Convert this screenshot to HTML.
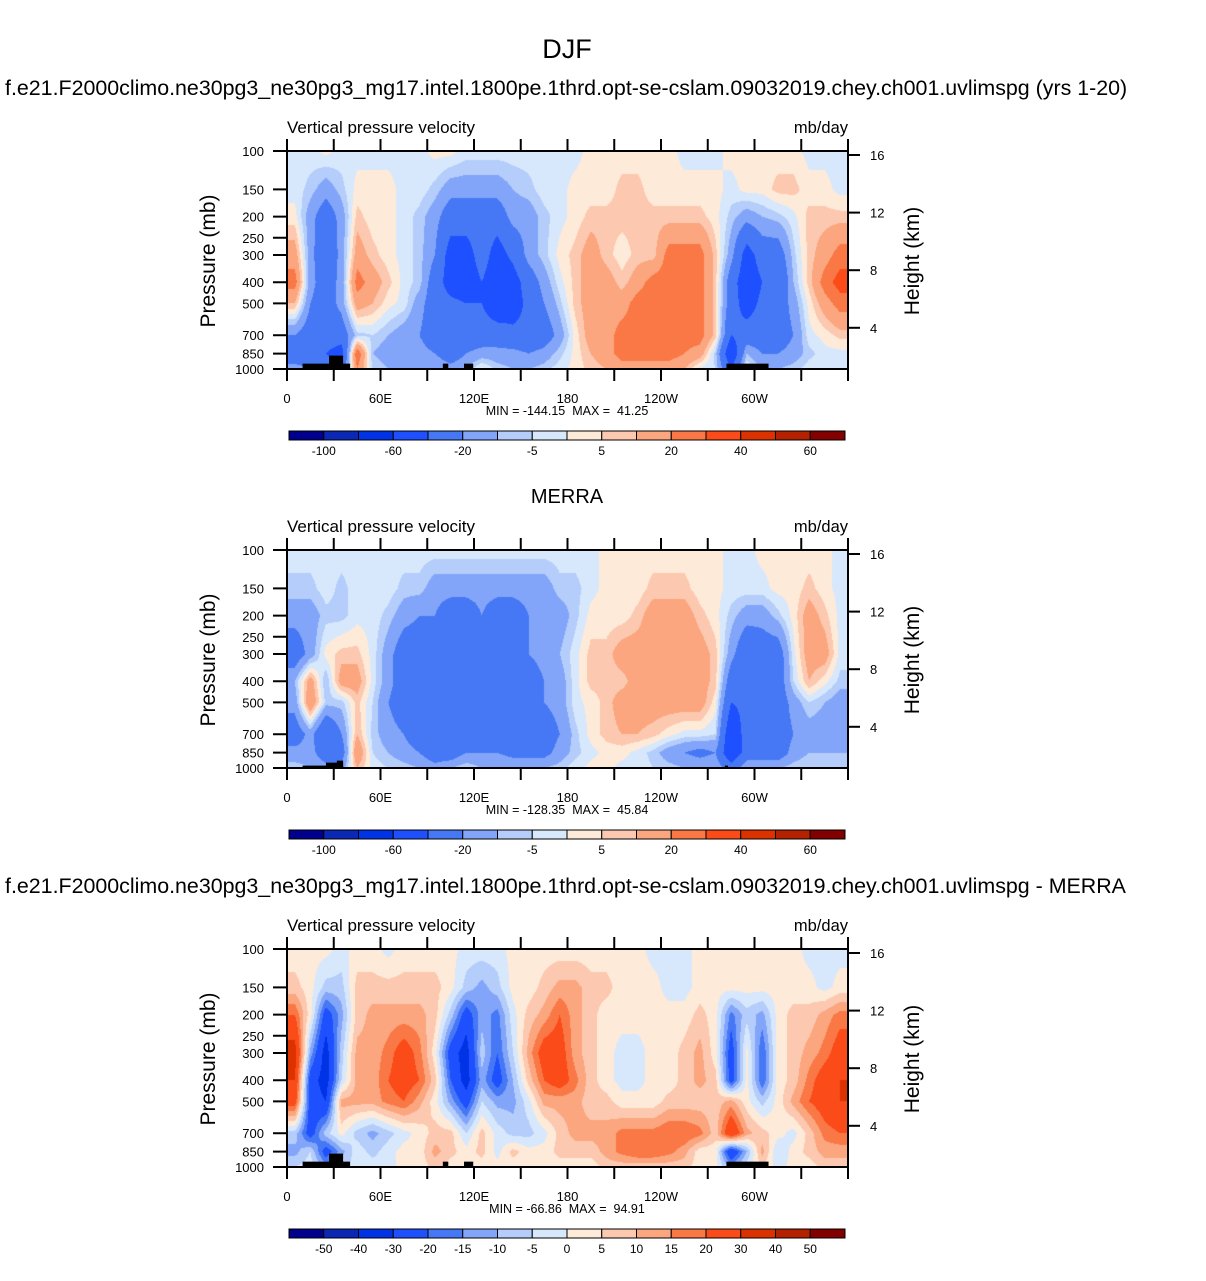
<!DOCTYPE html>
<html><head><meta charset="utf-8">
<style>
body{margin:0;background:#fff;width:1206px;height:1281px;position:relative;overflow:hidden;font-family:"Liberation Sans",Arial,sans-serif;}
canvas{position:absolute;z-index:1;}
svg{position:absolute;left:0;top:0;z-index:2;}
text{white-space:pre;}
</style></head>
<body>
<svg id="svg" width="1206" height="1281"></svg>
<script>
// ---------- data ----------
const lons = [5,15,25,35,45,55,65,75,85,95,105,115,125,135,145,155,165,175,185,195,205,215,225,235,245,255,265,275,285,295,305,315,325,335,345,355];
const levels = [100,150,200,300,400,500,700,850,1000];
const pTicks = [100,150,200,250,300,400,500,700,850,1000];
const hTicks = [16,12,8,4];
const xTickLons = [0,60,120,180,240,300];
const xTickLabels = ['0','60E','120E','180','120W','60W'];
const bounds1 = [-100,-80,-60,-40,-20,-10,-5,0,5,10,20,30,40,50,60];
const barLabels1 = ['-100','','-60','','-20','','-5','','5','','20','','40','','60'];
const bounds3 = [-50,-40,-30,-20,-15,-10,-5,0,5,10,15,20,30,40,50];
const barLabels3 = ['-50','-40','-30','-20','-15','-10','-5','0','5','10','15','20','30','40','50'];
const colors = ['#00008c','#0a28b4','#0032e6','#1e50ff','#4678f5','#82a5fa','#b4cdfa','#d7e8fd','#feead8','#fcc8b0','#fba67e','#fa7846','#fa4b19','#dc3200','#b42100','#820000'];

const model = [
[-2,-2,2,-2,-2,-2,-2,-2,-2,2,2,-2,-2,-2,-2,-2,-2,-2,-2,2,2,2,2,2,2,-2,-2,-2,2,2,2,2,2,-2,-2,-2],
[-2,-7,-15,-7,2,2,2,-2,-2,-7,-15,-15,-15,-15,-10,-7,-2,-2,2,2,2,7,7,2,2,2,2,2,-2,2,2,7,7,2,2,-2],
[2,-15,-30,-15,7,2,2,-2,-7,-15,-30,-30,-30,-30,-15,-15,-7,-2,2,7,7,7,7,7,7,7,7,2,-7,-15,-10,-7,-2,7,7,7],
[15,-15,-35,-15,15,7,2,-2,-7,-20,-50,-50,-30,-50,-35,-15,-7,2,7,15,7,2,7,7,25,25,25,7,-15,-50,-30,-30,-7,7,15,25],
[25,-15,-30,-15,25,15,7,-2,-7,-30,-50,-55,-40,-55,-50,-30,-15,-2,7,15,15,7,15,25,25,25,25,7,-30,-55,-40,-40,-10,7,25,35],
[10,-20,-30,-15,15,10,2,-2,-15,-30,-35,-40,-40,-55,-50,-35,-20,-7,7,15,15,15,25,25,25,25,25,7,-30,-50,-35,-30,-15,2,15,25],
[-20,-30,-30,-30,-7,-5,-10,-15,-20,-30,-30,-30,-30,-30,-35,-35,-30,-15,2,15,15,25,25,25,25,25,25,7,-40,-30,-30,-30,-20,-2,2,7],
[-30,-30,-40,-50,30,-10,-15,-15,-15,-20,-30,-20,-15,-15,-15,-20,-15,-7,2,10,15,25,25,25,25,20,15,-7,-60,-10,-20,-20,-15,-7,-2,-2],
[-15,-20,-30,-30,20,-5,-10,-10,-10,-10,-15,-10,2,-7,-10,-10,-7,-2,2,7,10,15,15,15,15,10,-2,-5,-40,2,-10,-10,-7,-2,-2,-2]];
const merra = [
[-2,-2,-2,-2,-2,-2,-2,-2,-2,-2,-2,-2,-2,-2,-2,-2,-2,-2,-2,-2,2,2,2,2,2,2,2,2,-2,-2,2,2,2,2,2,-2],
[-7,-7,-2,-7,-2,-2,-2,-7,-7,-15,-15,-15,-15,-15,-15,-15,-15,-7,-7,-2,2,2,2,7,7,7,2,2,-2,-2,-2,2,2,7,2,-2],
[-15,-15,-7,-7,-2,-2,-7,-15,-20,-20,-30,-30,-20,-30,-30,-20,-15,-15,-7,2,2,2,7,15,15,15,7,2,-7,-15,-15,-7,2,15,7,-2],
[-30,-15,2,7,7,-2,-15,-30,-30,-35,-40,-30,-30,-35,-30,-20,-15,-10,-2,7,7,15,15,15,15,20,15,7,-15,-35,-30,-30,-2,15,15,-2],
[-10,15,-10,15,15,-2,-15,-30,-30,-35,-40,-30,-30,-35,-30,-30,-20,-15,-2,7,7,7,15,15,15,20,15,7,-30,-40,-30,-30,-5,10,2,-7],
[-15,20,-7,-7,7,-5,-20,-30,-30,-35,-35,-30,-35,-35,-30,-30,-20,-15,-2,2,7,15,15,15,15,15,15,2,-40,-35,-30,-30,-15,-5,-10,-15],
[-30,-15,-40,-20,10,-7,-15,-20,-30,-30,-30,-30,-30,-30,-30,-30,-30,-20,-7,2,7,10,10,7,2,-2,-2,-5,-60,-30,-30,-30,-20,-15,-15,-20],
[-15,-15,-30,-30,20,-5,-10,-15,-20,-30,-30,-20,-20,-20,-25,-25,-25,-15,-7,-2,2,2,-2,-7,-15,-20,-25,-20,-60,-30,-30,-30,-15,-10,-10,-10],
[-7,-10,-15,-15,10,-2,-5,-7,-10,-15,-10,-5,-10,-10,-10,-10,-10,-7,-2,2,2,-2,-2,-5,-7,-10,-10,-10,-30,-10,-10,-10,-7,-5,-5,-7]];
const diff = [
[2,2,2,-2,2,2,-2,2,2,2,2,-2,-2,-2,2,2,2,2,2,2,2,2,2,-2,-2,-2,2,2,2,2,2,2,2,-2,-2,-2],
[7,2,-7,-7,7,7,7,7,7,7,2,-7,-12,-7,2,2,7,12,12,7,7,2,2,2,-2,-2,2,2,2,2,2,2,2,2,-2,2],
[20,2,-25,-12,7,12,12,12,12,7,-7,-25,-12,-17,-2,7,12,20,12,7,2,2,2,2,2,2,7,2,-17,-7,-12,2,7,7,12,17],
[35,-12,-35,-7,12,12,17,25,17,2,-25,-35,-7,-20,-5,12,25,25,12,7,2,-2,-2,2,2,7,12,2,-25,2,-20,2,7,12,17,25],
[30,-25,-35,-5,12,12,20,25,20,7,-20,-35,-12,-25,-10,7,20,25,17,7,2,-2,-2,2,2,7,12,7,-25,2,-20,2,7,17,25,30],
[25,-25,-30,12,12,12,17,20,12,2,-12,-25,-5,-12,-12,-2,12,12,12,7,7,2,2,2,7,7,7,7,12,2,-7,2,12,20,25,30],
[-7,-25,-7,2,-7,-12,-7,-2,2,7,7,-5,7,-2,-7,-7,-2,7,12,12,12,17,17,17,20,20,17,7,30,12,7,2,-2,7,17,20],
[-12,-5,-25,-12,-2,-7,-2,2,2,12,7,2,7,-2,7,2,2,7,7,7,12,17,20,20,17,12,2,2,-30,-10,12,-5,2,7,12,12],
[-5,-2,-12,-7,-2,-2,-2,2,2,7,2,2,2,2,2,2,2,2,2,2,7,7,7,7,7,7,2,2,-12,-2,5,-2,2,2,7,7]];
// topography blocks: [lon0, lon1, pressureTop]
const topo13 = [[10,40.5,945],[27,36,868],[100,103.5,945],[113.6,119.5,945],[282,309,945]];
const topo2 = [[10,36,975],[25,36,945],[32,36,925],[281,283,975]];

// ---------- layout ----------
const X0=287, X1=848, PW=X1-X0, PH=218;
const panels = [
 {top:151, data:model, bounds:bounds1, labels:barLabels1, topo:topo13, title:'f.e21.F2000climo.ne30pg3_ne30pg3_mg17.intel.1800pe.1thrd.opt-se-cslam.09032019.chey.ch001.uvlimspg (yrs 1-20)', titleSize:21.4, mm:'MIN = -144.15  MAX =  41.25', name:'model'},
 {top:550, data:merra, bounds:bounds1, labels:barLabels1, topo:topo2, title:'MERRA', titleSize:20, mm:'MIN = -128.35  MAX =  45.84', name:'merra'},
 {top:949, data:diff, bounds:bounds3, labels:barLabels3, topo:topo13, title:'f.e21.F2000climo.ne30pg3_ne30pg3_mg17.intel.1800pe.1thrd.opt-se-cslam.09032019.chey.ch001.uvlimspg - MERRA', titleSize:21.4, mm:'MIN = -66.86  MAX =  94.91', name:'diff'}
];
const xScale = lon => X0 + lon/360*PW;
const yScale = (p,top) => top + PH*Math.log10(p/100);
const hScale = (h,top) => top + 4 + (16-h)*14.4;

const svg = document.getElementById('svg');
const NS='http://www.w3.org/2000/svg';
function el(tag, attrs, parent){const e=document.createElementNS(NS,tag);for(const k in attrs)e.setAttribute(k,attrs[k]);(parent||svg).appendChild(e);return e;}
function txt(x,y,s,size,anchor,parent){const t=el('text',{x:x,y:y,'font-size':size,'text-anchor':anchor||'start','font-family':'Liberation Sans, Arial, sans-serif',fill:'#000'},parent);t.setAttribute('xml:space','preserve');t.textContent=s;return t;}

const mainTitle = txt(567,58,'DJF',27,'middle');



function levelIndex(v,b){let i=0;while(i<b.length&&v>=b[i])i++;return i;}
function interp(data,lon,lp){
  const lps = levels.map(p=>Math.log10(p));
  let r=0; while(r<lps.length-2 && lp>lps[r+1]) r++;
  let tr=(lp-lps[r])/(lps[r+1]-lps[r]); tr=Math.max(0,Math.min(1,tr));
  let c=0; while(c<lons.length-2 && lon>lons[c+1]) c++;
  let tc=(lon-lons[c])/(lons[c+1]-lons[c]); tc=Math.max(0,Math.min(1,tc));
  const a=data[r][c]*(1-tc)+data[r][c+1]*tc;
  const b=data[r+1][c]*(1-tc)+data[r+1][c+1]*tc;
  return a*(1-tr)+b*tr;
}

panels.forEach((P,pi)=>{
  const g = el('g',{});
  
  
  const top=P.top;
  const tt = txt(pi===1?567:5, top-56+(pi===1?9:0), P.title, P.titleSize, pi===1?'middle':'start', g);
  
  
  const vt = txt(287, top-18, 'Vertical pressure velocity', 17, 'start', g);
  
  
  const ut = txt(848, top-18, 'mb/day', 16.5, 'end', g);
  
  
  const cv=document.createElement('canvas');
  cv.width=PW; cv.height=PH; cv.style.left=X0+'px'; cv.style.top=top+'px';
  
  
  document.body.appendChild(cv);
  const ctx=cv.getContext('2d');
  const img=ctx.createImageData(PW,PH);
  const rgb=colors.map(h=>[parseInt(h.substr(1,2),16),parseInt(h.substr(3,2),16),parseInt(h.substr(5,2),16)]);
  for(let y=0;y<PH;y++){
    const lp=2+(y+0.5)/PH;
    for(let x=0;x<PW;x++){
      const lon=(x+0.5)/PW*360;
      const v=interp(P.data,lon,lp);
      const c=rgb[levelIndex(v,P.bounds)];
      const k=(y*PW+x)*4; img.data[k]=c[0];img.data[k+1]=c[1];img.data[k+2]=c[2];img.data[k+3]=255;
    }
  }
  ctx.putImageData(img,0,0);
  P.topo.forEach(t=>{
    const r=el('rect',{x:xScale(t[0]),y:yScale(t[2],top),width:xScale(t[1])-xScale(t[0]),height:yScale(1000,top)-yScale(t[2],top),fill:'#000'},g);
    
    
  });
  const fr=el('rect',{x:X0,y:top,width:PW,height:PH,fill:'none',stroke:'#000','stroke-width':2},g);
  
  
  for(let l=0;l<=360;l+=30){
    const x=xScale(l);
    el('line',{x1:x,y1:top,x2:x,y2:top-12,stroke:'#000','stroke-width':2},g);
    el('line',{x1:x,y1:top+PH,x2:x,y2:top+PH+12,stroke:'#000','stroke-width':2},g);
  }
  xTickLons.forEach((l,i)=>{
    const t=txt(xScale(l),top+PH+34,xTickLabels[i],13,'middle',g);
    
    
  });
  pTicks.forEach(p=>{
    const y=yScale(p,top);
    el('line',{x1:X0,y1:y,x2:X0-14,y2:y,stroke:'#000','stroke-width':2},g);
    const t=txt(X0-23,y+5,String(p),13,'end',g);
    
    
  });
  hTicks.forEach(h=>{
    const y=hScale(h,top);
    el('line',{x1:X1,y1:y,x2:X1+12,y2:y,stroke:'#000','stroke-width':2},g);
    const t=txt(X1+22,y+5,String(h),13,'start',g);
    
    
  });
  const yl=txt(0,0,'Pressure (mb)',21,'middle',g);
  yl.setAttribute('transform',`translate(215,${top+110}) rotate(-90)`);
  
  
  const yr=txt(0,0,'Height (km)',21,'middle',g);
  yr.setAttribute('transform',`translate(919,${top+110}) rotate(-90)`);
  
  
  const mm=txt(567,top+264,P.mm,12.5,'middle',g);
  
  
  const cbTop=top+280, cbL=289, cbW=556/16;
  colors.forEach((c,i)=>{
    const r=el('rect',{x:cbL+i*cbW,y:cbTop,width:cbW,height:9,fill:c,stroke:'#000','stroke-width':1},g);
    
    
  });
  P.labels.forEach((s,i)=>{
    if(!s) return;
    const t=txt(cbL+(i+1)*cbW,cbTop+24,s,12,'middle',g);
    
    
  });
});
</script>
</body></html>
